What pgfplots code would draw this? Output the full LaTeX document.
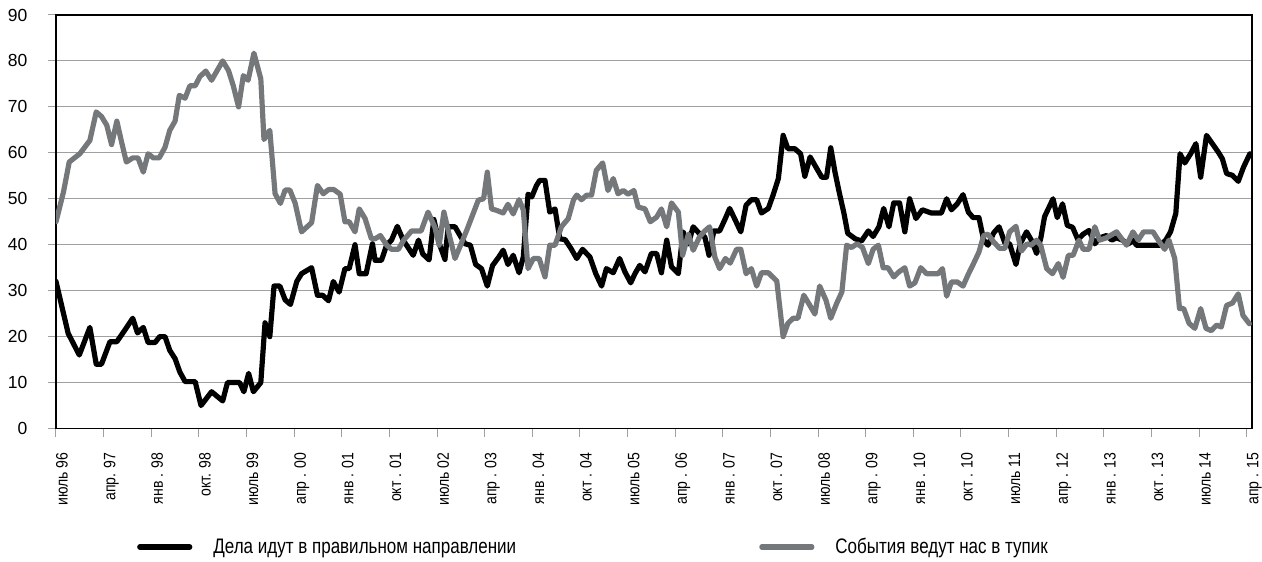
\documentclass[border=0pt]{standalone}
\usepackage{fontspec}
\setmainfont{Liberation Sans}
\newfontfamily\narrowfont[FakeStretch=0.85]{Liberation Sans}
\newfontfamily\legendfont[FakeStretch=0.81]{Liberation Sans}
\usepackage{pgfplots}
\pgfplotsset{compat=1.18}
\definecolor{sgray}{RGB}{117,120,123}
\definecolor{gridgray}{RGB}{160,160,160}

\begin{document}
\begin{tikzpicture}
\begin{axis}[
  scale only axis, width=1196pt, height=413.5pt,
  xmin=0, xmax=226, ymin=0, ymax=90,
  ytick={0,10,...,90},
  xtick={0,9,...,225},
  xticklabels={июль 96, апр. 97, янв . 98, окт. 98, июль 99, апр . 00, янв . 01, окт . 01, июль 02, апр . 03, янв . 04, окт . 04, июль 05, апр . 06, янв . 07, окт . 07, июль 08, апр . 09, янв . 10, окт . 10, июль 11, апр . 12, янв . 13, окт . 13, июль 14, апр . 15},
  ymajorgrids, grid style={gridgray, line width=1pt},
  axis line style={black, line width=1.5pt},
  tick align=outside, major tick length=8pt,
  tick style={gridgray, line width=1pt},
  xtick pos=left, ytick pos=left,
  /pgf/number format/assume math mode=true,
  yticklabel style={font=\fontsize{17.5}{18}\selectfont},
  yticklabel shift=17pt,
  xticklabel style={font=\narrowfont\fontsize{16.5}{17}\selectfont, rotate=90, anchor=north east, inner sep=0pt},
  xticklabel shift=16pt,
  legend columns=2,
  legend style={at={(0.0677,-0.2866)}, anchor=west, draw=none, fill=none, inner sep=0pt,
    font=\legendfont\fontsize{21}{24}\selectfont,
    nodes={inner sep=0pt},
    /tikz/every odd column/.append style={column sep=21pt},
    /tikz/every even column/.append style={column sep=243pt}},
  legend image code/.code={\draw[#1, line cap=round] (0pt,0pt) -- (50pt,0pt);},
  every axis plot/.append style={line width=5.2pt, line join=round, line cap=round},
]
\addplot[black] coordinates {
(0,32) (2.3,20.7) (4.4,16) (6.4,22) (7.6,14) (8.6,14) (10.2,18.9) (11.5,18.9) (13,21.4) (14.5,24)
(15.4,20.8) (16.5,22) (17.4,18.7) (18.7,18.7) (19.6,20) (20.6,20) (21.5,17) (22.5,15.2) (23.4,12.3) (24.4,10.2)
(26.3,10.2) (27.4,5) (29.4,8) (31.5,6) (32.4,10) (34.7,10) (35.5,8) (36.4,12) (37.3,8) (38.7,10)
(39.5,23) (40.4,20) (41.2,31) (42.3,31) (43.3,28) (44.3,27) (45.5,32) (46.4,33.7) (48.3,35) (49.4,29)
(50.4,29) (51.5,27.8) (52.4,32) (53.5,29.7) (54.6,34.8) (55.4,34.8) (56.5,40) (57.3,33.7) (58.6,33.7) (59.8,40.2)
(60.3,36.6) (61.5,36.6) (62.5,40) (63.4,41) (64.5,44) (65.6,41) (67.5,37.7) (68.5,41) (69.3,38) (70.5,36.7)
(71.4,45.5) (72.5,40) (73.5,36.8) (74.1,43.9) (75.4,43.9) (76.3,42.1) (77.3,40.2) (78.3,39.9) (79.3,35.7) (80.4,34.8)
(81.5,31) (82.5,35.5) (83.6,37.2) (84.5,38.8) (85.4,35.7) (86.4,37.7) (87.5,33.9) (88.3,37.3) (89.2,51) (89.9,50.4)
(90.8,52.9) (91.4,54) (92.4,54) (93.3,47.1) (94.3,47.8) (95.2,41.3) (96.2,41.1) (97.3,39.2) (98.4,37) (99.5,39)
(100.9,37.3) (102,33.7) (103.1,31) (104,34.8) (105.3,33.9) (106.5,37) (107.5,34.1) (108.6,31.7) (109.4,33.7) (110.3,35.5)
(111.3,34.1) (112.5,38.1) (113.5,38.1) (114.4,33.9) (115.4,41) (116.3,35.2) (117.6,33.7) (118.5,42.8) (119.5,40.2) (120.4,43.9)
(121.6,42.4) (122.6,41.7) (123.4,37.7) (124.3,43) (125.4,43) (126.4,45.5) (127.3,47.9) (128.3,45.5) (129.4,42.8) (130.4,48.6)
(131.4,49.8) (132.4,49.8) (133.3,46.9) (134.6,47.9) (135.5,50.8) (136.5,54.4) (137.4,63.8) (138.3,60.9) (139.6,60.9) (140.7,59.8)
(141.5,54.9) (142.5,59.1) (143.6,56.9) (144.7,54.7) (145.6,54.7) (146.4,61.1) (147.2,55.8) (148,51.4) (148.9,46.8) (149.6,42.5)
(151,41.3) (152.2,40.8) (153.5,43) (154.4,41.8) (155.5,43.9) (156.4,47.9) (157.4,43.9) (158.3,49.1) (159.4,49.1) (160.4,42.8)
(161.3,50) (162.5,45.7) (163.7,47.6) (165.4,46.9) (167.3,46.9) (168.3,50) (169.2,47.6) (170.3,48.9) (171.4,50.9) (172.4,47.1)
(173.3,45.9) (174.4,45.9) (175.3,41) (176.1,39.9) (177.2,42.6) (178.2,43.9) (179.3,40.4) (180.2,40.2) (181.4,35.7) (182.2,40.2)
(183.4,42.8) (184.3,41) (185.3,38.1) (186.1,41.5) (186.8,46.1) (188.4,50) (189.2,45.9) (190.2,48.9) (191.1,44.2) (192.1,43.8)
(193.1,41.1) (194.1,42.3) (195.2,43.1) (196.3,40.2) (197.2,41.5) (198.5,42) (199.5,41) (200.4,41.5) (201.5,41) (202.6,40.2)
(203.8,41) (204.1,39.9) (208.6,39.9) (209.7,41) (210.6,42.8) (211.6,46.8) (212.4,59.8) (213.3,57.8) (214.4,59.8) (215.4,62)
(216.3,54.7) (217.4,63.8) (218.5,62) (219.6,60.2) (220.4,58.7) (221.2,55.5) (222.3,55.1) (223.4,53.8) (224.4,56.9) (225.6,59.8)
};
\addlegendentry{Дела идут в правильном направлении}
\addplot[sgray] coordinates {
(0,45) (1.4,51.4) (2.5,58) (4.5,59.8) (6.4,62.7) (7.6,68.9) (8.6,67.9) (9.6,66) (10.5,61.8) (11.5,66.9)
(12.4,62.3) (13.3,58) (14.5,58.9) (15.5,58.9) (16.5,55.8) (17.4,59.8) (18.4,58.9) (19.5,58.9) (20.6,61.2) (21.5,64.9)
(22.5,66.9) (23.3,72.5) (24.4,71.9) (25.3,74.6) (26.3,74.6) (27.2,76.6) (28.3,77.8) (29.4,75.8) (31.5,80) (32.6,77.9)
(33.5,74.6) (34.5,70) (35.4,76.8) (36.3,75.8) (37.4,81.7) (38.7,76.1) (39.3,62.9) (40.4,64.9) (41.4,51.1) (42.4,49)
(43.3,51.9) (44.2,51.9) (45.2,49) (46.4,42.8) (48.3,44.8) (49.4,52.9) (50.5,51.1) (51.5,52) (52.5,52) (53.7,51)
(54.6,45) (55.4,45) (56.5,42.8) (57.3,47.8) (58.4,45.7) (59.6,41.3) (60.3,41.3) (61.3,42) (62.5,39.9) (63.4,39)
(64.7,39) (65.7,41) (67.2,43) (69,43) (70.3,47.1) (71.6,43.8) (72.4,39.9) (73.3,47.1) (74.4,41.7) (75.4,37)
(76.3,39.5) (77.6,43.1) (78.8,46.7) (79.8,49.7) (80.8,50) (81.5,55.8) (82.3,47.8) (83.2,47.5) (84.5,46.9) (85.4,48.8)
(86.4,46.7) (87.5,49.8) (88.3,47.6) (89.2,34.8) (90.2,37) (91.3,37) (92.4,33) (93.3,39.9) (94.3,39.9) (95.5,43.9)
(96.8,45.7) (97.8,49.8) (98.4,50.8) (99.3,49.8) (100.3,50.8) (101.2,50.8) (102.1,56.2) (103.3,57.8) (104.3,51.8) (105.3,54.4)
(106.2,51.1) (107.2,51.8) (108.1,51) (109.2,51.8) (110,48.2) (111.3,47.8) (112.3,45) (113.5,46) (114.4,47.8) (115.4,43.9)
(116.3,49.1) (117.6,47.1) (118.4,37.7) (119.5,42.3) (120.4,38.8) (121.6,41.7) (122.6,43) (123.5,43.9) (124.5,37.3) (125.4,34.8)
(126.5,37) (127.4,36) (128.6,39) (129.4,39) (130.4,33.7) (131.4,34.8) (132.4,31) (133.3,33.9) (134.6,33.9) (136.2,32.1)
(137.4,20) (138.3,22.9) (139.3,24) (140.2,24) (141.3,29) (142.4,26.9) (143.4,24.9) (144.3,31) (145.5,27.9) (146.4,24)
(147.5,27.2) (148.5,29.7) (149.4,39.9) (150.3,39.4) (151.4,40.2) (152.4,39.4) (153.5,35.9) (154.4,39) (155.4,39.9) (156.3,35)
(157.2,35) (158.3,33) (159.3,34.1) (160.4,35) (161.3,31) (162.3,31.7) (163.4,35) (164.5,33.7) (166.7,33.7) (167.5,34.8)
(168.3,28.8) (169.2,31.9) (170.3,31.9) (171.4,31) (172.4,33.6) (173.3,35.7) (174.4,38.4) (175.3,42) (176.1,42.3) (177.2,40.6)
(178.3,39.2) (179.3,39.2) (180.2,42.8) (181.4,44) (182.4,38.6) (183.5,40.2) (184.3,39.9) (185.3,41) (186.1,39.8) (187.2,34.8)
(188.3,33.7) (189.4,35.9) (190.3,32.9) (191.3,37.7) (192.2,37.7) (193.3,41) (194.1,39) (195.2,39) (196.3,43.9) (197.2,41)
(198.5,41.5) (200.4,42.8) (202.3,39.9) (203.5,42.8) (204.5,41) (205.5,42.8) (207.3,42.8) (208.5,40.6) (209.5,39) (210.3,41)
(211.4,37) (212.3,26.1) (213.1,26.1) (214.1,22.9) (215.2,21.8) (216.3,26.1) (217.3,21.8) (218.3,21.3) (219.3,22.5) (220.2,22.1)
(221.2,26.8) (222.3,27.3) (223.4,29.3) (224.3,24.6) (225.5,22.8)
};
\addlegendentry{События ведут нас в тупик}
\coordinate (bl) at (rel axis cs:0,0);
\end{axis}
\path (bl) ++(-56pt,-133.5pt) rectangle ++(1262pt,562pt);
\end{tikzpicture}
\end{document}
